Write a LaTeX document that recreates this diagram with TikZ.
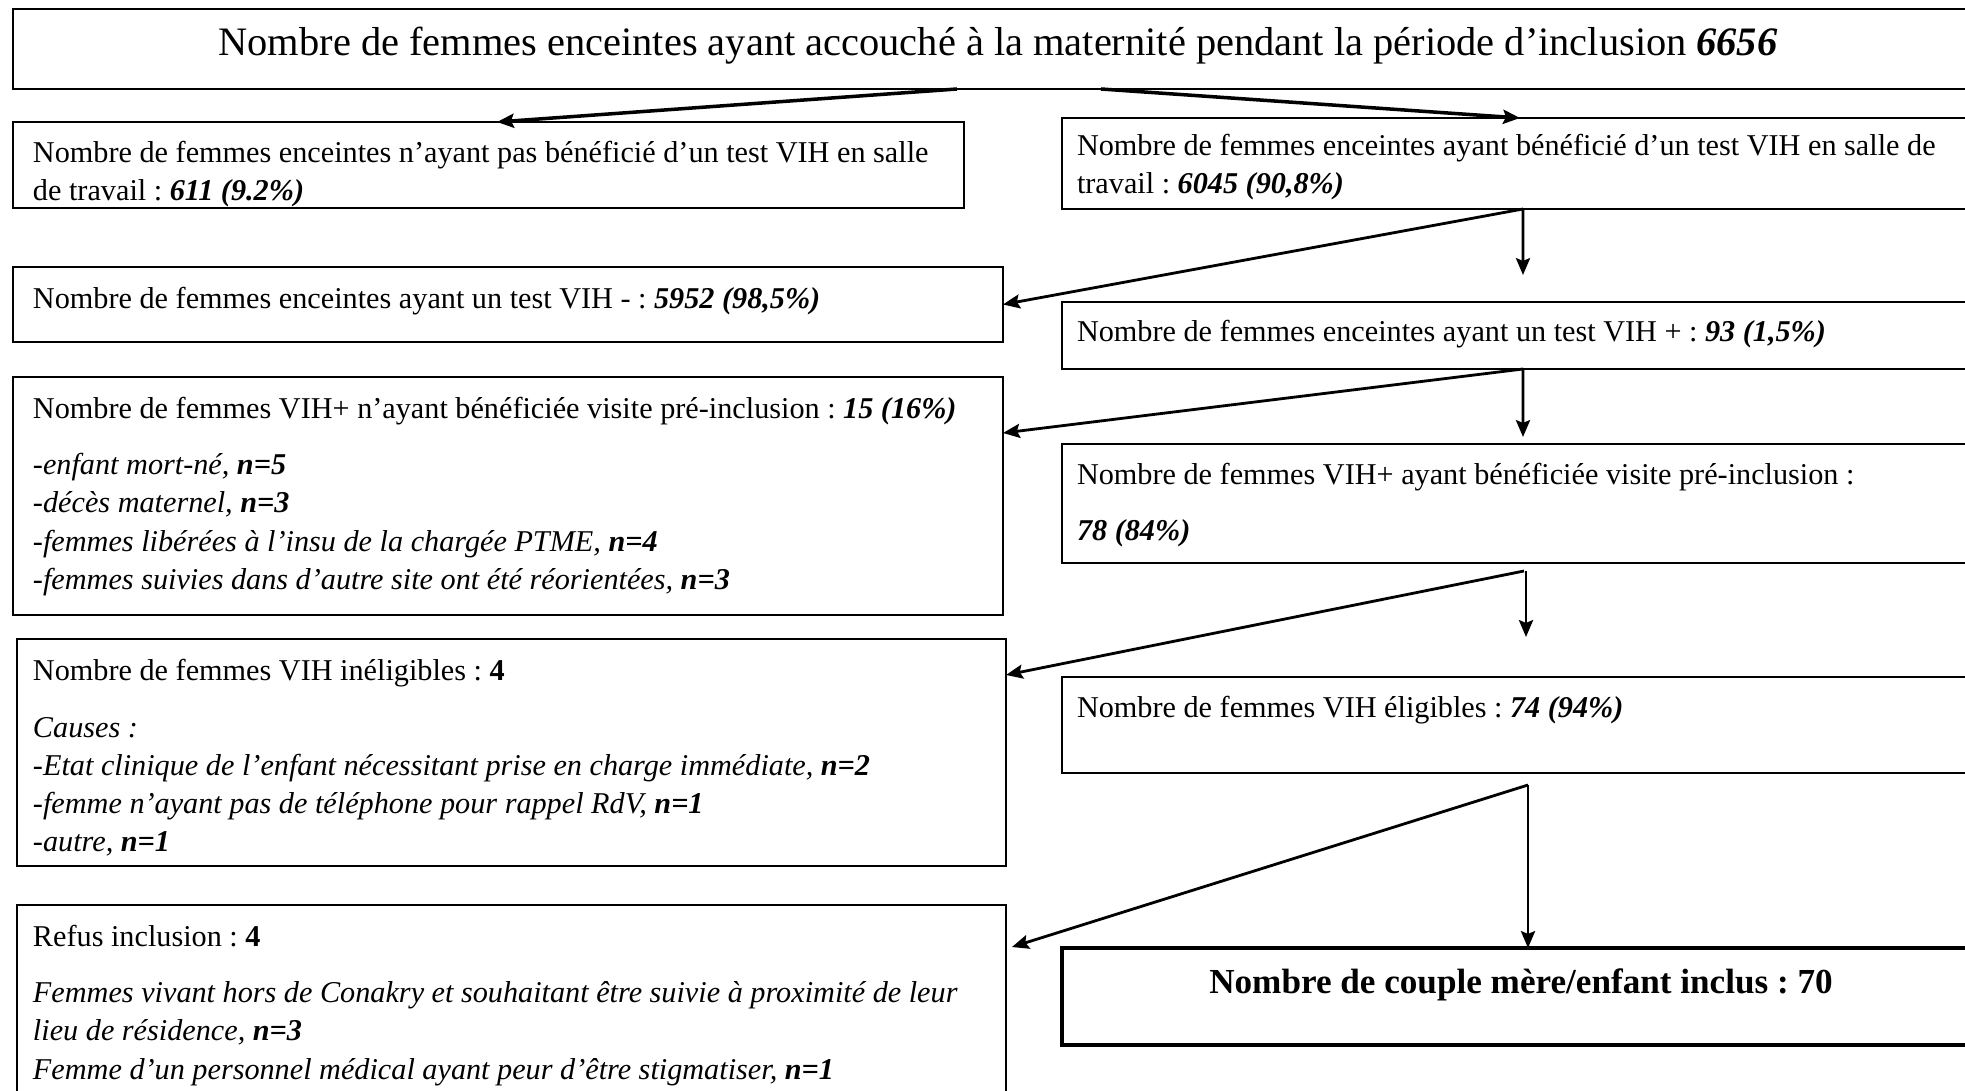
\documentclass[tikz,border=0pt]{standalone}
\usepackage{fontspec}
\setmainfont{Liberation Serif}
\frenchspacing
\usetikzlibrary{arrows.meta}
\tikzstyle{boite} = [draw,rectangle,line width=0.5pt,inner sep=0pt,outer sep=0pt,anchor=north west]
\tikzstyle{boitegrasse} = [boite,line width=1.2pt]
\tikzstyle{texte} = [inner sep=0pt,outer sep=0pt,anchor=north west,align=left,font=\fontsize{8.6}{10.9}\selectfont]
\tikzstyle{lien} = [->,>={Stealth[length=4.8pt,width=4pt,inset=0.8pt]},thick,line width=0.8pt]
\tikzstyle{lien2} = [->,>={Stealth[length=4.8pt,width=4pt,inset=0.8pt]},thick,line width=1pt]
\newcommand{\chiffre}[1]{\textbf{\textit{#1}}}

\begin{document}
\begin{tikzpicture}[thick]
	\useasboundingbox (0,0) rectangle (19.65,-10.91);
	\clip (0,0) rectangle (19.65,-10.91);

	% boites
	\node[boite, minimum width=20.07cm, minimum height=0.80cm] (T) at (0.13,-0.09) {};
	\node[boite, minimum width=9.51cm, minimum height=0.86cm] (L1) at (0.13,-1.22) {};
	\node[boite, minimum width=9.58cm, minimum height=0.91cm] (R1) at (10.62,-1.18) {};
	\node[boite, minimum width=9.90cm, minimum height=0.75cm] (L2) at (0.13,-2.67) {};
	\node[boite, minimum width=9.58cm, minimum height=0.67cm] (R2) at (10.62,-3.02) {};
	\node[boite, minimum width=9.90cm, minimum height=2.38cm] (L3) at (0.13,-3.77) {};
	\node[boite, minimum width=9.58cm, minimum height=1.19cm] (R3) at (10.62,-4.44) {};
	\node[boite, minimum width=9.89cm, minimum height=2.27cm] (L4) at (0.17,-6.39) {};
	\node[boite, minimum width=9.58cm, minimum height=0.96cm] (R4) at (10.62,-6.77) {};
	\node[boite, minimum width=9.89cm, minimum height=2.50cm] (L5) at (0.17,-9.05) {};
	\node[boitegrasse, minimum width=9.58cm, minimum height=0.97cm] (R5) at (10.62,-9.48) {};

	% textes
	\node[font=\fontsize{11.5}{13}\selectfont, anchor=base, inner sep=0pt] (tT) at (9.98,-0.55) {Nombre de femmes enceintes ayant accouché à la maternité pendant la période d’inclusion \chiffre{6656}};

	\node[texte] (tL1) at (0.33,-1.355) {\strut Nombre de femmes enceintes n’ayant pas bénéficié d’un test VIH en salle\\ de travail : \chiffre{611 (9.2\%)}};
	\node[texte] (tR1) at (10.77,-1.285) {\strut Nombre de femmes enceintes ayant bénéficié d’un test VIH en salle de\\ travail : \chiffre{6045 (90,8\%)}};

	\node[texte] (tL2) at (0.33,-2.815) {\strut Nombre de femmes enceintes ayant un test VIH - : \chiffre{5952 (98,5\%)}};
	\node[texte] (tR2) at (10.77,-3.15) {\strut Nombre de femmes enceintes ayant un test VIH + : \chiffre{93 (1,5\%)}};

	\node[texte] (tL3) at (0.33,-3.915) {\strut Nombre de femmes VIH+ n’ayant bénéficiée visite pré-inclusion : \chiffre{15 (16\%)}\\[5.1pt]
		\textit{-enfant mort-né, \textbf{n=5}}\\
		\textit{-décès maternel, \textbf{n=3}}\\
		\textit{-femmes libérées à l’insu de la chargée PTME, \textbf{n=4}}\\
		\textit{-femmes suivies dans d’autre site ont été réorientées, \textbf{n=3}}};
	\node[texte] (tR3) at (10.77,-4.575) {\strut Nombre de femmes VIH+ ayant bénéficiée visite pré-inclusion :\\[5.1pt]
		\chiffre{78 (84\%)}};

	\node[texte] (tL4) at (0.33,-6.54) {\strut Nombre de femmes VIH inéligibles : \textbf{4}\\[5.1pt]
		\textit{Causes :}\\
		\textit{-Etat clinique de l’enfant nécessitant prise en charge immédiate, \textbf{n=2}}\\
		\textit{-femme n’ayant pas de téléphone pour rappel RdV, \textbf{n=1}}\\
		\textit{-autre, \textbf{n=1}}};
	\node[texte] (tR4) at (10.77,-6.905) {\strut Nombre de femmes VIH éligibles : \chiffre{74 (94\%)}};

	\node[texte] (tL5) at (0.33,-9.195) {\strut Refus inclusion : \textbf{4}\\[5.1pt]
		\textit{Femmes vivant hors de Conakry et souhaitant être suivie à proximité de leur}\\
		\textit{lieu de résidence, \textbf{n=3}}\\
		\textit{Femme d’un personnel médical ayant peur d’être stigmatiser, \textbf{n=1}}};
	\node[font=\fontsize{10}{12}\selectfont\bfseries, anchor=base, inner sep=0pt] (tR5) at (15.21,-9.93) {Nombre de couple mère/enfant inclus : 70};

	% points de depart
	\coordinate (b1) at ([xshift=4.61cm]R1.south west);
	\coordinate (b2) at ([xshift=4.61cm]R2.south west);
	\coordinate (b3) at (15.24,-5.71);
	\coordinate (b4) at (15.28,-7.85);
	\coordinate (f1) at (15.23,-2.75);
	\coordinate (f2) at (15.23,-4.37);
	\coordinate (f3) at (15.26,-6.37);

	% fleches
	\draw[lien2] ([xshift=9.44cm]T.south west) -- ([xshift=4.84cm]L1.north west);
	\draw[lien2] ([xshift=10.88cm]T.south west) -- ([xshift=4.58cm]R1.north west);

	\draw[lien] (b1) -- (f1);
	\draw[lien] (b1) -- (L2.east);

	\draw[lien] (b2) -- (f2);
	\draw[lien] (b2) -- ([yshift=-0.56cm]L3.north east);

	\draw[lien] (f3 |- b3) -- (f3);
	\draw[lien] (b3) -- ([yshift=-0.36cm]L4.north east);

	\draw[lien] (b4) -- (b4 |- R5.north);
	\draw[lien] (b4) -- ([xshift=0.06cm,yshift=-0.42cm]L5.north east);
\end{tikzpicture}
\end{document}
